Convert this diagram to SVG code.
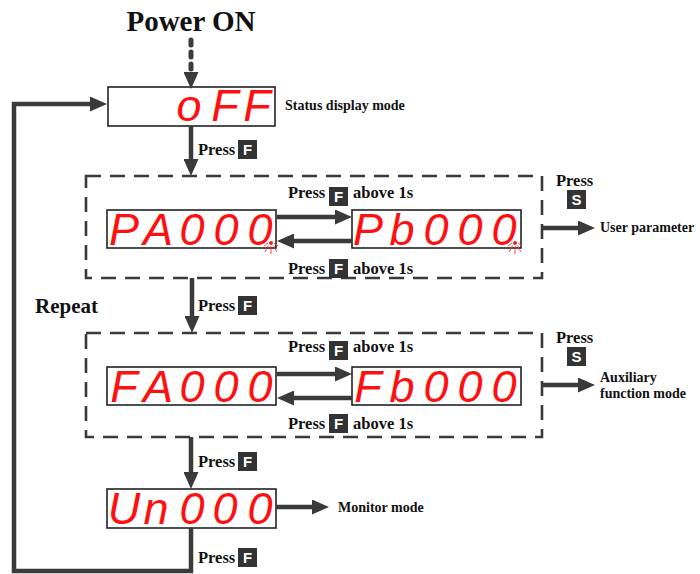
<svg xmlns="http://www.w3.org/2000/svg" width="700" height="574" viewBox="0 0 700 574">
<style>
.lbl{font-family:"Liberation Serif","Times New Roman",serif;font-weight:bold;fill:#111}
.s14{font-size:14px}
.s16{font-size:16.5px}
.key{fill:#333}
.kt{font-family:"Liberation Sans",Arial,sans-serif;font-weight:bold;font-size:15px;fill:#fff;text-anchor:middle}
.led{fill:#fff;stroke:#222;stroke-width:1.6}
.seg{font-family:"Liberation Sans",Arial,sans-serif;font-weight:normal;font-style:italic;font-size:45px;fill:#ff1010;text-anchor:middle}
.dash{fill:none;stroke:#3a3a3a;stroke-width:2.6;stroke-dasharray:15 9}
.conn{fill:none;stroke:#3a3a3a;stroke-width:4.5}
.blink{stroke:#ff3030;stroke-width:0.9;fill:none}
</style>
<defs>
<marker id="ah" viewBox="0 0 17 15" refX="8" refY="7.5" markerWidth="17" markerHeight="15" markerUnits="userSpaceOnUse" orient="auto">
<path d="M0,0 L17,7.5 L0,15 Z" fill="#3a3a3a"/>
</marker>
</defs>

<g id="power-on">
<text class="lbl" x="191" y="31" font-size="29" text-anchor="middle">Power ON</text>
</g>

<g id="status-display">
<rect class="led" x="108" y="87" width="167" height="39"/>
<text class="seg" font-size="41" x="189 225 257" y="121">oFF</text>
<text class="lbl s14" x="285" y="110">Status display mode</text>
</g>

<g id="param-group">
<rect class="dash" x="86" y="176" width="456" height="102"/>
<text class="lbl s16" x="288" y="198">Press</text>
<rect class="key" x="329" y="187" width="19" height="19"/><text class="kt" x="338.5" y="202">F</text>
<text class="lbl s16" x="353" y="198">above 1s</text>
<text class="lbl s16" x="288" y="274">Press</text>
<rect class="key" x="329" y="259" width="19" height="19"/><text class="kt" x="338.5" y="274">F</text>
<text class="lbl s16" x="353" y="274">above 1s</text>
<text class="lbl s16" x="556" y="186">Press</text>
<rect class="key" x="567" y="190" width="19" height="19"/><text class="kt" x="576.5" y="205">S</text>
<text class="lbl s14" x="600" y="232">User parameter</text>
</g>

<g id="pa000">
<rect class="led" x="107" y="210" width="169" height="38"/>
<text class="seg" x="124 158 192 226 260" y="245">PA000</text>
<circle cx="271" cy="243" r="2" fill="#ff1a1a"/>
<path class="blink" d="M271,246 L271,254 M268.5,245.5 L265,252 M273.5,245.5 L277,252 M268,243 L264,246 M274,243 L278,246"/>
</g>

<g id="pb000">
<rect class="led" x="352" y="210" width="169" height="38"/>
<text class="seg" x="368 402 436 470 504" y="245">Pb000</text>
<circle cx="515" cy="243" r="2" fill="#ff1a1a"/>
<path class="blink" d="M515,246 L515,254 M512.5,245.5 L509,252 M517.5,245.5 L521,252 M512,243 L508,246 M518,243 L522,246"/>
</g>

<g id="repeat-label">
<text class="lbl" x="35" y="313" font-size="21">Repeat</text>
</g>

<g id="aux-group">
<rect class="dash" x="86" y="333" width="456" height="104"/>
<text class="lbl s16" x="288" y="352">Press</text>
<rect class="key" x="329" y="341" width="19" height="19"/><text class="kt" x="338.5" y="356">F</text>
<text class="lbl s16" x="353" y="352">above 1s</text>
<text class="lbl s16" x="288" y="429">Press</text>
<rect class="key" x="329" y="414" width="19" height="19"/><text class="kt" x="338.5" y="429">F</text>
<text class="lbl s16" x="353" y="429">above 1s</text>
<text class="lbl s16" x="556" y="343">Press</text>
<rect class="key" x="567" y="347" width="19" height="19"/><text class="kt" x="576.5" y="362">S</text>
<text class="lbl s14" x="600" y="382">Auxiliary</text>
<text class="lbl s14" x="600" y="398">function mode</text>
</g>

<g id="fa000">
<rect class="led" x="107" y="367" width="169" height="38"/>
<text class="seg" x="124 158 192 226 260" y="402">FA000</text>
</g>

<g id="fb000">
<rect class="led" x="352" y="367" width="169" height="38"/>
<text class="seg" x="368 402 436 470 504" y="402">Fb000</text>
</g>

<g id="un000">
<rect class="led" x="107" y="489" width="169" height="39"/>
<text class="seg" x="124 156 192 225 260" y="524">Un000</text>
<text class="lbl s14" x="338" y="512">Monitor mode</text>
</g>

<g id="press-labels">
<text class="lbl s16" x="198" y="155">Press</text>
<rect class="key" x="238" y="140" width="19" height="19"/><text class="kt" x="247.5" y="155">F</text>
<text class="lbl s16" x="198" y="311">Press</text>
<rect class="key" x="238" y="296" width="19" height="19"/><text class="kt" x="247.5" y="311">F</text>
<text class="lbl s16" x="198" y="467">Press</text>
<rect class="key" x="238" y="452" width="19" height="19"/><text class="kt" x="247.5" y="467">F</text>
<text class="lbl s16" x="198" y="563">Press</text>
<rect class="key" x="238" y="548" width="19" height="19"/><text class="kt" x="247.5" y="563">F</text>
</g>

<g id="connectors">
<line x1="191" y1="40" x2="191" y2="74" stroke="#3a3a3a" stroke-width="5" stroke-linecap="round" stroke-dasharray="5 7"/>
<line x1="191" y1="78" x2="191" y2="80" class="conn" marker-end="url(#ah)"/>
<line class="conn" x1="191" y1="126" x2="191" y2="167" marker-end="url(#ah)"/>
<line class="conn" x1="277" y1="217" x2="343" y2="217" marker-end="url(#ah)"/>
<line class="conn" x1="352" y1="241" x2="286" y2="241" marker-end="url(#ah)"/>
<line class="conn" x1="542" y1="228" x2="586" y2="228" marker-end="url(#ah)"/>
<line class="conn" x1="192" y1="278" x2="192" y2="324" marker-end="url(#ah)"/>
<line class="conn" x1="277" y1="374" x2="343" y2="374" marker-end="url(#ah)"/>
<line class="conn" x1="352" y1="398" x2="286" y2="398" marker-end="url(#ah)"/>
<line class="conn" x1="542" y1="385" x2="586" y2="385" marker-end="url(#ah)"/>
<line class="conn" x1="191" y1="437" x2="191" y2="480" marker-end="url(#ah)"/>
<line class="conn" x1="276" y1="507" x2="320" y2="507" marker-end="url(#ah)"/>
<polyline class="conn" points="191,528 191,571 14,571 14,104 98,104" marker-end="url(#ah)"/>
</g>
</svg>
